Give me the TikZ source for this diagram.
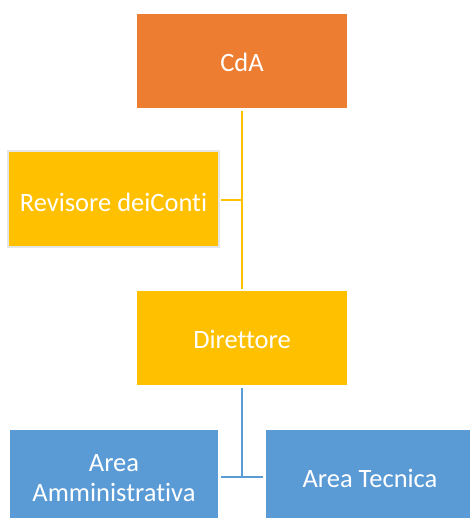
\documentclass[tikz,border=0pt]{standalone}
\usepackage{fontspec}
\setmainfont[Ligatures=NoCommon]{Carlito}
\definecolor{orangeC}{HTML}{ED7D31}
\definecolor{goldC}{HTML}{FFC000}
\definecolor{blueC}{HTML}{5B9BD5}
\definecolor{greyC}{HTML}{E6E6E6}
\begin{document}
\begin{tikzpicture}[x=1pt,y=-1pt,
  box/.style={draw=none, inner sep=0pt, text=white, align=center, font=\fontsize{26.5}{30}\selectfont},
  goldline/.style={draw=goldC, line width=2.5pt},
  blueline/.style={draw=blueC, line width=2.5pt}]
\useasboundingbox (0,0) rectangle (469,518);
% boxes
\fill[orangeC] (137,14) rectangle (347,108);
\node[box] (cda) at (242,62) {CdA};
\fill[greyC] (7,150) rectangle (220,248);
\fill[goldC] (9,152) rectangle (218,246);
\node[box] (rev) at (113.5,202) {Revisore deiConti};
\fill[goldC] (137,291) rectangle (347,385);
\node[box] (dir) at (242,339) {Direttore};
\fill[blueC] (10,430) rectangle (218,520);
\node[box] (amm) at (114,478) {Area\\Amministrativa};
\fill[blueC] (266,430) rectangle (471,520);
\node[box] (tec) at (370,478) {Area Tecnica};
% connectors
\coordinate (cdaB) at (242,111);
\coordinate (dirT) at (242,289);
\coordinate (revJ) at (242,200);
\coordinate (revR) at (221,200);
\draw[goldline] (cdaB) -- (dirT);
\draw[goldline] (revR) -- (revJ);
\coordinate (dirB) at (242,388);
\coordinate (areaJ) at (242,477);
\coordinate (ammR) at (221,477);
\coordinate (tecL) at (263,477);
\draw[blueline] (dirB) -- (areaJ);
\draw[blueline] (ammR) -- (tecL);
\end{tikzpicture}
\end{document}
